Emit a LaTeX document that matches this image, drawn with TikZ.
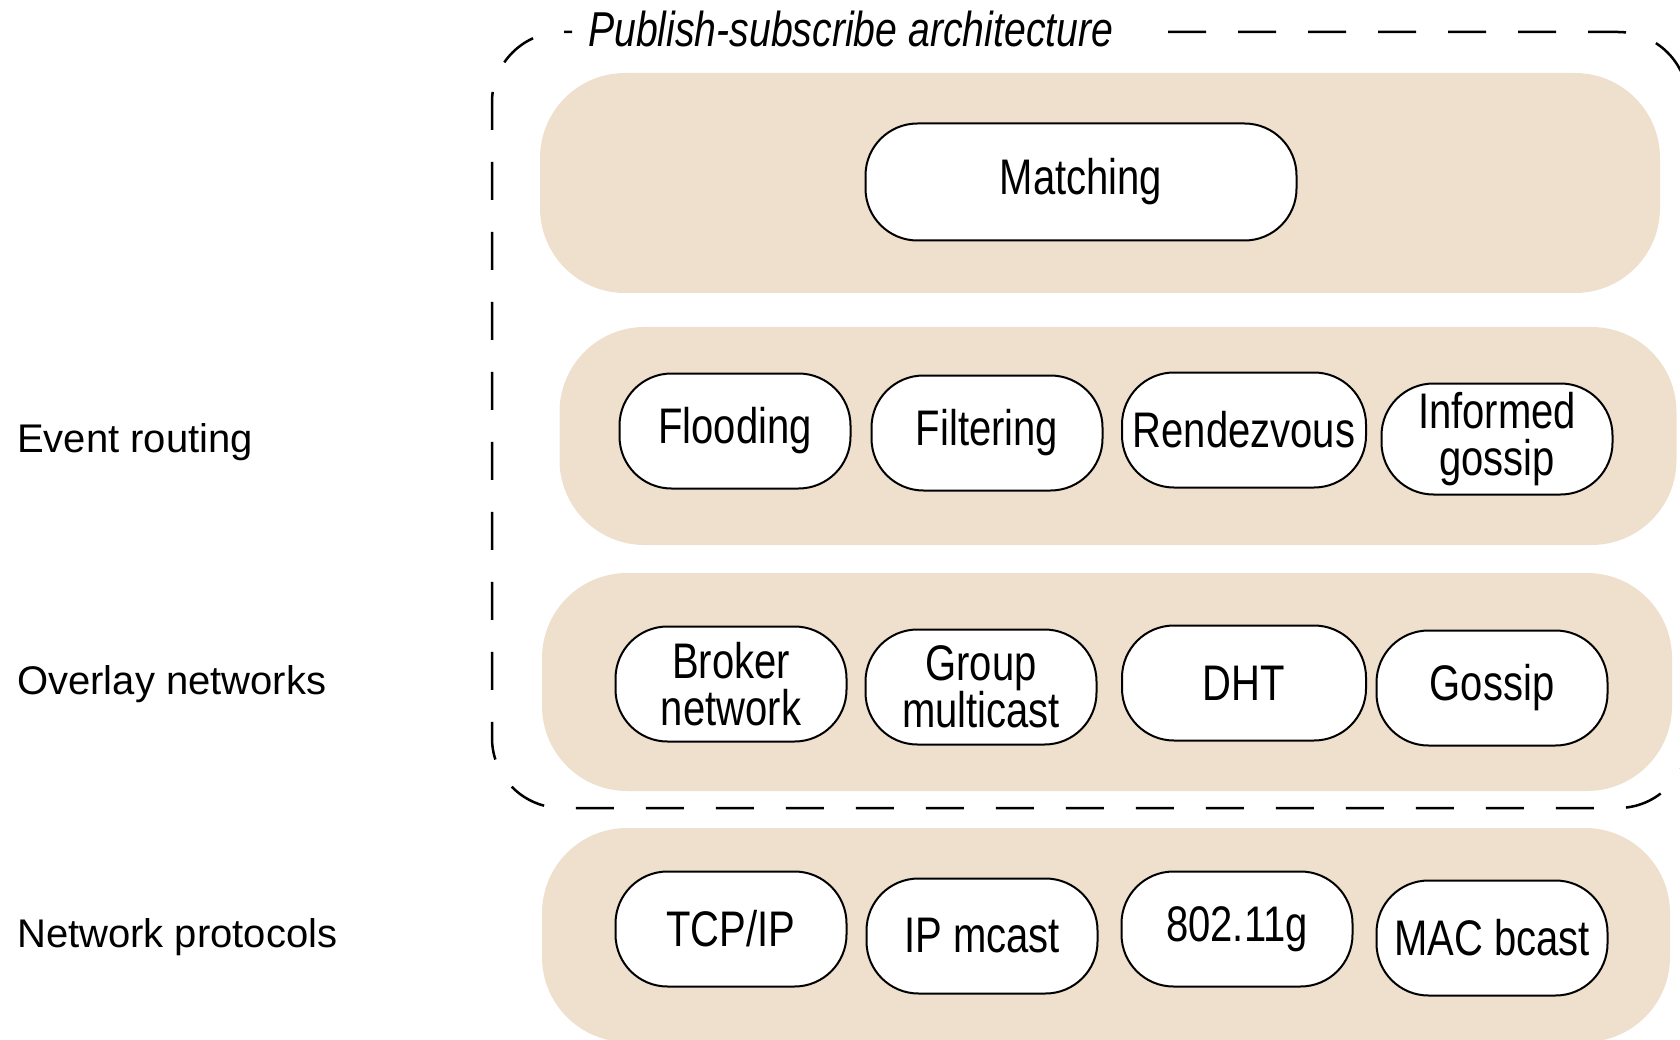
\documentclass[tikz,border=0pt]{standalone}
\usepackage{fontspec}
\setmainfont{Liberation Sans}
\newfontfamily\narrowfont{Liberation Sans}[FakeStretch=0.8]
\usepackage{tikz}
\definecolor{bandtan}{RGB}{239,224,205}

\begin{document}
\begin{tikzpicture}[x=1pt,y=-1pt]
    \tikzstyle{band} = [rectangle, rounded corners=85pt, fill=bandtan, inner sep=0pt];
    \tikzstyle{pill} = [rectangle, rounded corners=52pt, draw=black, fill=white, line width=2pt, minimum width=231pt, minimum height=115pt, inner sep=0pt, align=center, font=\narrowfont\fontsize{50}{47}\selectfont];
    \tikzstyle{lbl} = [anchor=base west, inner sep=0pt, font=\fontsize{40}{44}\selectfont];
    \tikzstyle{pstitle} = [anchor=base west, inner sep=0pt, font=\narrowfont\itshape\fontsize{49}{54}\selectfont];
    \tikzstyle{pubbox} = [line width=2.5pt, dash pattern=on 38pt off 32pt, rounded corners=70pt];

    \useasboundingbox (0,0) rectangle (1680,1040);

    % layers
    \node[band, minimum width=1120pt, minimum height=220pt](Lmatch) at (1100,183) {};
    \node[band, minimum width=1117pt, minimum height=218pt](Lroute) at (1118,436) {};
    \node[band, minimum width=1130pt, minimum height=218pt](Loverlay) at (1107,682) {};
    \node[band, minimum width=1128pt, minimum height=214pt](Lproto) at (1106,935) {};

    % publish-subscribe frame
    \node[pstitle](T) at (588,47) {Publish-subscribe architecture};
    \draw[pubbox] (1168,32) -- (1688,32) -- (1688,808) -- (492,808) -- (492,32) -- (572,32);

    \node[lbl](lRoute) at (17,452) {Event routing};
    \node[lbl](lOverlay) at (17,694) {Overlay networks};
    \node[lbl](lProto) at (17,947) {Network protocols};

    \node[pill, minimum width=431pt, minimum height=117pt](Match) at (1081,182) {Matching};

    \node[pill](Flood) at (735,431) {Flooding};
    \node[pill](Filter) at (987,433) {Filtering};
    \node[pill, minimum width=244pt](Rendez) at (1244,430) {Rendezvous};
    \node[pill, minimum height=111pt](Informed) at (1497,439) {Informed\\gossip};

    \node[pill](Broker) at (731,684) {Broker\\network};
    \node[pill](Group) at (981,687) {Group\\multicast};
    \node[pill, minimum width=244pt](DHT) at (1244,683) {DHT};
    \node[pill](Gossip) at (1492,688) {Gossip};

    \node[pill](TCP) at (731,929) {TCP/IP};
    \node[pill](IPm) at (982,936) {IP mcast};
    \node[pill](Wifi) at (1237,929) {802.11g};
    \node[pill](MAC) at (1492,938) {MAC bcast};
\end{tikzpicture}
\end{document}
